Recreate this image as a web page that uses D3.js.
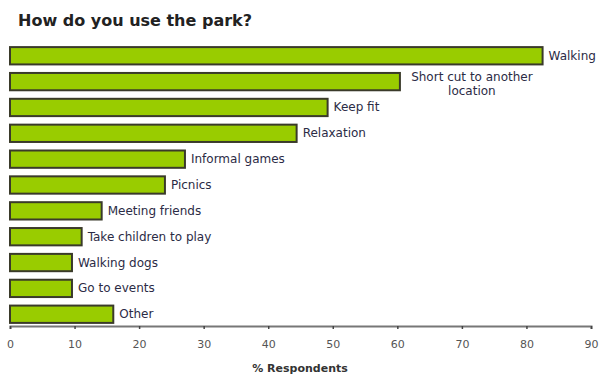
<!DOCTYPE html>
<html><head><meta charset="utf-8">
<script src="https://cdn.jsdelivr.net/npm/d3@7"></script>
<style>body{margin:0;background:#fff;}svg{display:block;}</style>
</head><body>
<script>
const categories = ["Walking","Short cut to another location","Keep fit","Relaxation","Informal games","Picnics","Meeting friends","Take children to play","Walking dogs","Go to events","Other"];
const labelLines = [["Walking"],["Short cut to another","location"],["Keep fit"],["Relaxation"],["Informal games"],["Picnics"],["Meeting friends"],["Take children to play"],["Walking dogs"],["Go to events"],["Other"]];
const values = [82.5,60.4,49.2,44.4,27.1,24.0,14.2,11.1,9.6,9.6,16.0];
const tickValues = [0,10,20,30,40,50,60,70,80,90];
const title = "How do you use the park?";
const axisTitle = "% Respondents";

const W=603,H=376;
const svg=d3.select("body").append("svg").attr("width",W).attr("height",H);
const x=d3.scaleLinear().domain([0,90]).range([10,591]);
const y=d3.scaleBand().domain(categories).range([44,326]).paddingInner(0.33).paddingOuter(0.12);

svg.append("text").attr("x",18).attr("y",26).text(title)
  .attr("font-family","DejaVu Sans, Verdana, sans-serif").attr("font-weight","bold")
  .attr("font-size",16).attr("fill","#222");

svg.selectAll("rect.bar").data(values).join("rect").attr("class","bar")
  .attr("x",x(0)).attr("y",(d,i)=>y(categories[i]))
  .attr("width",d=>x(d)-x(0)).attr("height",y.bandwidth())
  .attr("fill","#99cc00").attr("stroke","#3a3a2a").attr("stroke-width",2);

const lab=svg.selectAll("text.lab").data(values).join("text").attr("class","lab")
  .attr("font-family","DejaVu Sans, Verdana, sans-serif").attr("font-size",12).attr("fill","#2b2b45");
lab.each(function(d,i){
  const t=d3.select(this);
  const lines=labelLines[i];
  const cy=y(categories[i])+y.bandwidth()/2;
  if(lines.length===1){
    t.attr("x",x(d)+6).attr("y",cy+4).text(lines[0]);
  } else {
    const tx=x(d)+6;
    t.attr("text-anchor","middle");
    t.append("tspan").attr("x",tx+66).attr("y",cy-1).text(lines[0]);
    t.append("tspan").attr("x",tx+66).attr("y",cy+13).text(lines[1]);
  }
});

const ax=svg.append("g").attr("transform","translate(0,326)")
  .call(d3.axisBottom(x).tickValues(tickValues).tickSize(3).tickPadding(11).tickFormat(d3.format("d")));
ax.select(".domain").attr("stroke","#777").attr("stroke-width",2);
ax.selectAll(".tick line").attr("stroke","#444").attr("stroke-width",1.5);
ax.selectAll(".tick text").attr("font-family","DejaVu Sans, Verdana, sans-serif").attr("font-size",11).attr("fill","#555");

svg.append("text").attr("x",300).attr("y",372).attr("text-anchor","middle").text(axisTitle)
  .attr("font-family","DejaVu Sans, Verdana, sans-serif").attr("font-weight","bold").attr("font-size",11).attr("fill","#333");
</script>
</body></html>
